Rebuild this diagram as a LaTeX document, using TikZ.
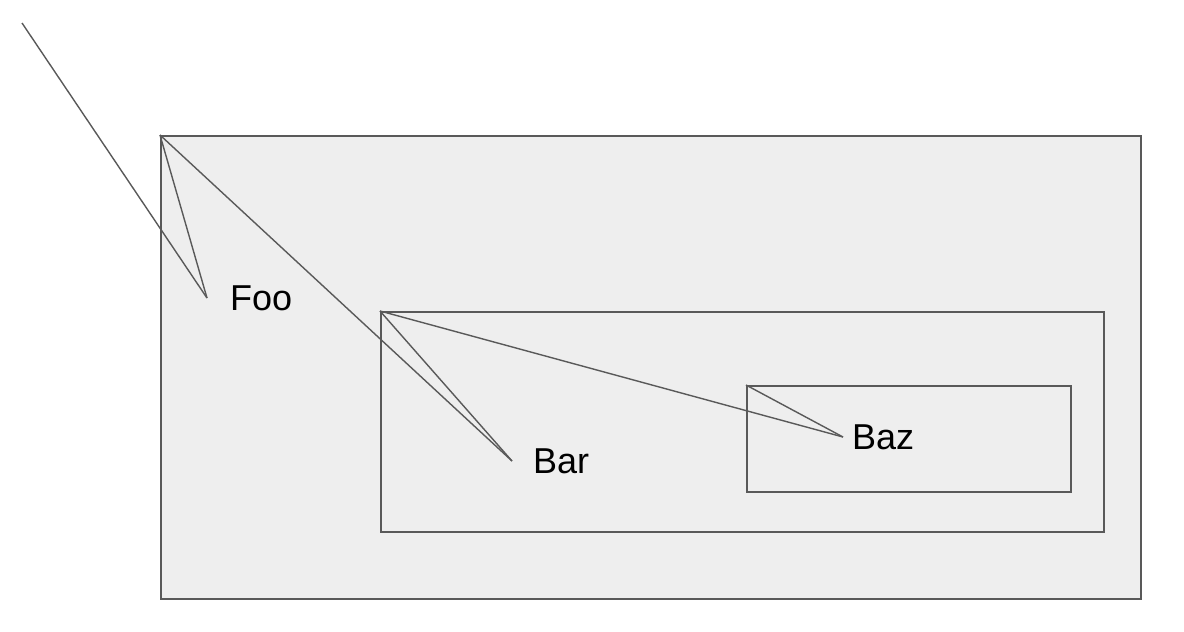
\documentclass[tikz,border=0pt]{standalone}
\usepackage{fontspec}
\setmainfont{Liberation Sans}
\usepackage{xcolor}
\usepackage{tikz}
\usetikzlibrary{
  positioning
}
\definecolor{FigLine}{HTML}{595959}
\definecolor{FigFill}{HTML}{EEEEEE}
\definecolor{FigText}{HTML}{000000}

\begin{document}
\begin{tikzpicture}[
x=1pt, y=-1pt,
frame/.style={
draw=FigLine,
fill=FigFill,
line width=1.6pt,
anchor=north west,
inner sep=0pt
},
tag/.style={
text=FigText,
font=\fontsize{36}{43}\selectfont,
inner sep=0pt
},
link/.style={draw=FigLine, line width=1.4pt}
]
\useasboundingbox (0,0) rectangle (1184,632);

% Nested boxes
\node[frame, minimum width=980pt, minimum height=463pt] (outer) at (160,135) {};
\node[frame, minimum width=723pt, minimum height=220pt] (middle) at (380,311) {};
\node[frame, minimum width=324pt, minimum height=106pt] (inner) at (746,385) {};

% Label end points
\coordinate (fooEnd) at (207,298);
\coordinate (barEnd) at (512,461);
\coordinate (bazEnd) at (843,437);
\coordinate (start) at (22,23);

% Labels
\node[tag, right=23pt of fooEnd] (foo) {Foo};
\node[tag, right=21pt of barEnd] (bar) {Bar};
\node[tag, right=9pt of bazEnd] (baz) {Baz};

% Lines
\draw[link] (start) -- (fooEnd);
\draw[link] (outer.north west) -- (fooEnd);
\draw[link] (outer.north west) -- (barEnd);
\draw[link] (middle.north west) -- (barEnd);
\draw[link] (middle.north west) -- (bazEnd);
\draw[link] (inner.north west) -- (bazEnd);

\end{tikzpicture}
\end{document}
